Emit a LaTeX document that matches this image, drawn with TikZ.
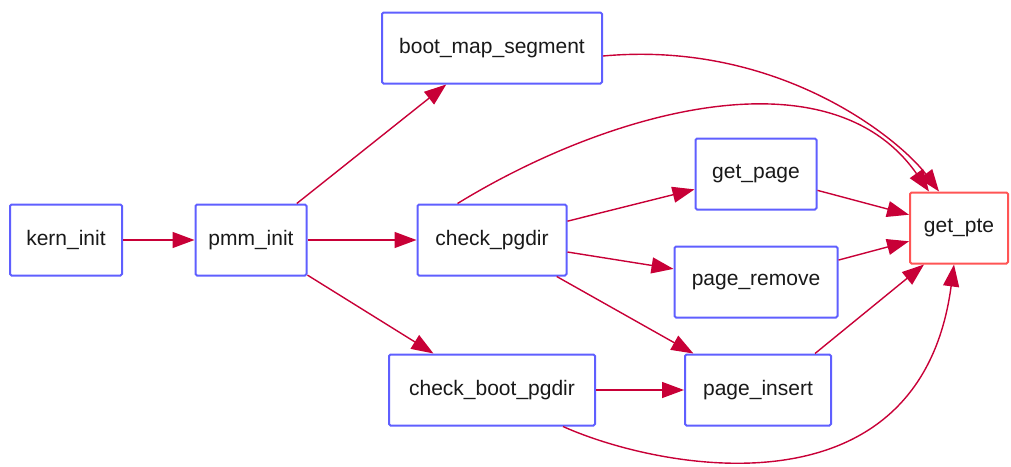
\documentclass[tikz,border=0pt]{standalone}
\usepackage{fontspec}
\setmainfont{Liberation Sans}
\usetikzlibrary{arrows.meta}
\definecolor{boxblue}{RGB}{95,95,255}
\definecolor{boxred}{RGB}{255,85,85}
\definecolor{edgecol}{RGB}{200,0,55}
\begin{document}
\begin{tikzpicture}[x=1pt,y=-1pt,
  fn/.style={draw=boxblue,line width=2pt,rounded corners=1.5pt,fill=white,
    minimum height=71pt,inner sep=0pt,font=\fontsize{21}{25}\selectfont,text=black!90},
  edge/.style={draw=edgecol,line width=1.4pt,-{Triangle[length=22pt,width=16pt]}}]
\useasboundingbox (0,0) rectangle (1011,466);
\node[fn,minimum width=112pt] (kern) at (66,240) {kern\_init};
\node[fn,minimum width=111pt] (pmm) at (251,240) {pmm\_init};
\node[fn,minimum width=220pt] (bms) at (492,48) {boot\_map\_segment};
\node[fn,minimum width=149pt] (cpd) at (492,240) {check\_pgdir};
\node[fn,minimum width=206pt] (cbp) at (492,390) {check\_boot\_pgdir};
\node[fn,minimum width=121pt] (gpg) at (756,174) {get\_page};
\node[fn,minimum width=163pt] (prm) at (756,282) {page\_remove};
\node[fn,minimum width=146pt] (pin) at (758,390) {page\_insert};
\node[fn,draw=boxred,minimum width=98pt] (pte) at (959,228) {get\_pte};
\draw[edge] (kern) -- (pmm);
\draw[edge] (pmm) -- (bms);
\draw[edge] (pmm) -- (cpd);
\draw[edge] (pmm) -- (cbp);
\draw[edge] (cpd) -- (gpg);
\draw[edge] (cpd) -- (prm);
\draw[edge] (cpd) -- (pin);
\draw[edge] (cbp) -- (pin);
\draw[edge] (gpg) -- (pte);
\draw[edge] (prm) -- (pte);
\draw[edge] ([xshift=57pt]pin.north) -- ([xshift=-35pt]pte.south);
\draw[edge] ([yshift=-8pt]bms.east) .. controls (780,40) and (900,140) .. ([xshift=30pt]pte.north west);
\draw[edge] ([xshift=41pt]cpd.north west) .. controls (610,110) and (830,50) .. ([xshift=20pt]pte.north west);
\draw[edge] ([xshift=-33pt]cbp.south east) .. controls (660,470) and (920,520) .. ([xshift=-5pt]pte.south);
\end{tikzpicture}
\end{document}
